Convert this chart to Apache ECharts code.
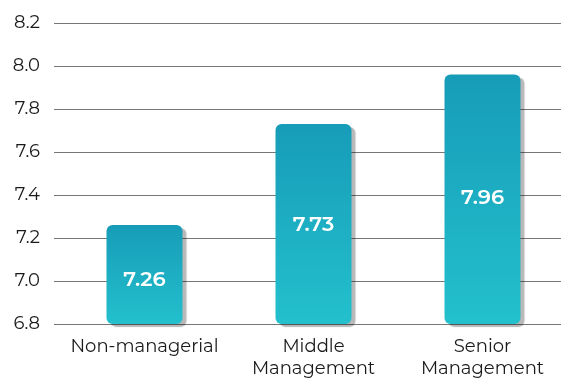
<!DOCTYPE html>
<html><head><meta charset="utf-8">
<script src="https://cdn.jsdelivr.net/npm/echarts@6/dist/echarts.min.js"></script>
<style>html,body{margin:0;padding:0;background:#fff;overflow:hidden;width:561px;height:378px}#c{width:620px;height:378px}</style>
</head><body><div id="c"></div>
<script>
const categories = ['Non-managerial', 'Middle\nManagement', 'Senior\nManagement'];
const values = [7.26, 7.73, 7.96];
const yMin = 6.8, yMax = 8.2, yStep = 0.2;

const font = 'Montserrat, "Noto Sans", sans-serif';
const labelShift = [5, 1, -1];
const chart = echarts.init(document.getElementById('c'), null, {renderer: 'canvas'});
const gridTop = 23, gridBottom = 54;
chart.setOption({
  animation: false,
  grid: [
    {left: 54, width: 507, top: gridTop, bottom: gridBottom, outerBoundsMode: 'none', containLabel: false},
    {left: 60, width: 507, top: gridTop, bottom: gridBottom, outerBoundsMode: 'none', containLabel: false}
  ],
  xAxis: [
    {gridIndex: 0, type: 'category', data: categories, show: false},
    {gridIndex: 1, type: 'category', data: categories,
     axisLine: {show: false}, axisTick: {show: false},
     axisLabel: {interval: 0, color: '#1a1a1a', fontSize: 18, fontFamily: font, margin: 12, lineHeight: 22}}
  ],
  yAxis: [
    {gridIndex: 0, type: 'value', min: yMin, max: yMax, interval: yStep,
     axisLine: {show: false}, axisTick: {show: false},
     axisLabel: {color: '#1a1a1a', fontSize: 18, fontFamily: font, margin: 14,
                 formatter: v => v.toFixed(1)},
     splitLine: {lineStyle: {color: '#777', width: 1}}},
    {gridIndex: 1, type: 'value', min: yMin, max: yMax, interval: yStep, show: false}
  ],
  series: [{
    type: 'bar',
    xAxisIndex: 1, yAxisIndex: 1,
    data: values.map((v, i) => ({value: v, label: {offset: [0, labelShift[i]]}})),
    barWidth: 76,
    itemStyle: {
      borderRadius: 6,
      color: new echarts.graphic.LinearGradient(0, 0, 0, 1, [
        {offset: 0, color: '#179cb8'},
        {offset: 1, color: '#23c0cd'}
      ]),
      shadowColor: 'rgba(0,0,0,0.28)', shadowBlur: 1, shadowOffsetX: 4, shadowOffsetY: 3
    },
    label: {show: true, position: 'inside', color: '#fff', fontSize: 21, fontWeight: 600,
            fontFamily: font, formatter: p => p.value.toFixed(2)}
  }]
});
</script></body></html>
